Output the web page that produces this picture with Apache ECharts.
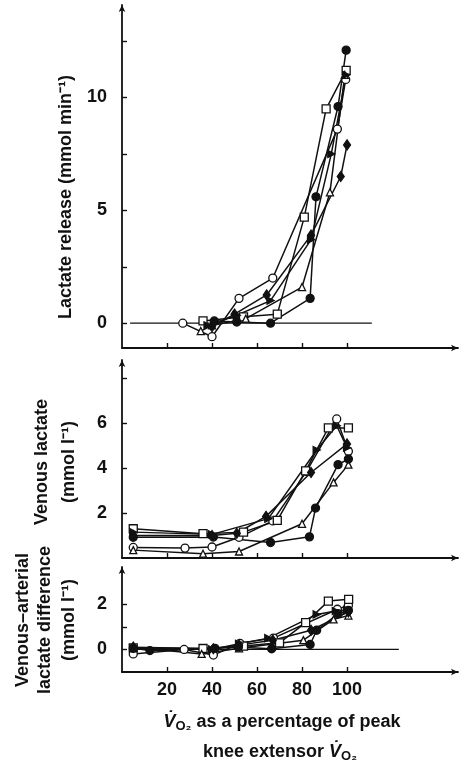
<!DOCTYPE html>
<html>
<head>
<meta charset="utf-8">
<script src="https://cdn.jsdelivr.net/npm/echarts@6/dist/echarts.min.js"></script>
<style>
  html, body { margin: 0; padding: 0; background: #fff; }
  #chart { width: 459px; height: 767px; }
</style>
</head>
<body>
<div id="chart"></div>
<script>
// x: VO2 as % of peak knee extensor VO2
const xTicks = [20, 40, 60, 80, 100];

// top panel: lactate release (mmol/min)
const releaseTicks = [0, 2.5, 5, 7.5, 10, 12.5];
const releaseLabels = [0, 5, 10];
const releaseZero = [[3.6, 0], [111, 0]];
const releaseOpenCircle = [[27, 0], [40, -0.6], [52, 1.1], [67, 2.0], [95.7, 8.6], [99.4, 10.8]];
const releaseSquare = [[36, 0.1], [54, 0.28], [69, 0.4], [81, 4.7], [90.7, 9.5], [99.6, 11.2]];
const releaseTriangle = [[35, -0.35], [40, -0.1], [55, 0.2], [80, 1.6], [92.4, 5.8], [99, 11.0]];
const releaseDiamond = [[40, -0.15], [50, 0.4], [64.3, 1.25], [84, 3.9], [97.2, 6.5], [100, 7.9]];
const releaseFilled = [[41, 0.1], [51, 0.05], [66, 0], [83.6, 1.1], [86.2, 5.6], [96, 9.6], [99.6, 12.1]];
const releaseArrow = [[38, -0.1], [51, 0.35], [66, 1.0], [84, 3.7], [93, 7.5], [99.6, 11.0]];

// middle panel: venous lactate (mmol/l)
const venousTicks = [2, 4, 6, 8];
const venousLabels = [2, 4, 6];
const venousOpenCircle = [[5, 0.47], [28, 0.44], [40, 0.49], [52, 0.92], [67, 1.65], [82, 3.85], [95.4, 6.18], [100.6, 4.74]];
const venousSquare = [[5, 1.3], [36, 1.08], [54, 1.15], [69, 1.67], [81.6, 3.87], [91.7, 5.78], [100.6, 5.78]];
const venousTriangle = [[5, 0.35], [36, 0.19], [52, 0.29], [80, 1.52], [94, 3.36], [100.6, 4.15]];
const venousDiamond = [[5, 1.0], [40, 1.0], [51, 1.1], [64, 1.85], [84, 3.8], [100, 5.07]];
const venousFilled = [[5, 0.92], [40.6, 0.93], [66, 0.69], [83.3, 0.94], [86, 2.22], [96, 4.15], [100.6, 4.4]];
const venousArrow = [[5, 1.15], [40, 1.05], [65, 1.75], [86.5, 4.8], [95.4, 5.88], [100, 4.9]];

// bottom panel: venous-arterial lactate difference (mmol/l)
const diffTicks = [0, 1, 2];
const diffLabels = [0, 2];
const diffZero = [[3.6, 0], [123, 0]];
const diffOpenCircle = [[5, -0.2], [27.6, 0], [40.6, -0.25], [52.4, 0.27], [67.3, 0.5], [95.7, 1.78], [100.6, 1.95]];
const diffSquare = [[5, 0.07], [36, 0.04], [54, 0.15], [70, 0.29], [81.6, 1.19], [91.7, 2.14], [100.7, 2.22]];
const diffTriangle = [[5, 0.1], [35.4, -0.2], [52, 0.05], [80.6, 0.41], [94, 1.33], [100.6, 1.5]];
const diffDiamond = [[5, 0.1], [40.6, 0.03], [52, 0.19], [67, 0.41], [84, 0.85], [100.6, 1.66]];
const diffFilled = [[5, 0.05], [12.4, -0.05], [41.3, 0.05], [51.7, 0.1], [66.5, 0.03], [83.6, 0.22], [86.5, 0.85], [96, 1.58], [100.6, 1.73]];
const diffArrow = [[5, 0.05], [40, 0], [52, 0.25], [65, 0.5], [86.5, 1.55], [95, 1.7], [100, 1.75]];

const INK = '#111';
const FONT = 'bold 18px "Liberation Sans", Arial, sans-serif';

const markers = {
  openCircle: { symbol: 'circle', symbolSize: 8, fill: '#fff' },
  filled: { symbol: 'circle', symbolSize: 8, fill: INK },
  square: { symbol: 'rect', symbolSize: 8, fill: '#fff' },
  triangle: { symbol: 'triangle', symbolSize: 7, fill: '#fff' },
  diamond: { symbol: 'diamond', symbolSize: [7, 10], fill: INK },
  arrow: { symbol: 'path://M0,0L10,5L0,10Z', symbolSize: 7, fill: INK }
};

function subject(data, kind, idx) {
  const m = markers[kind];
  return {
    type: 'line', xAxisIndex: idx, yAxisIndex: idx, data: data,
    symbol: m.symbol, symbolSize: m.symbolSize, showSymbol: true,
    lineStyle: { color: INK, width: 1.5 },
    itemStyle: { color: m.fill, borderColor: INK, borderWidth: 1.3 },
    z: 3
  };
}

function zeroLine(data, idx) {
  return {
    type: 'line', xAxisIndex: idx, yAxisIndex: idx, data: data,
    symbol: 'none', lineStyle: { color: INK, width: 1.2 }, z: 2
  };
}

function xAxis(idx, showLabels) {
  return {
    type: 'value', gridIndex: idx, min: 0, max: 149.3,
    axisLine: { onZero: false, lineStyle: { color: INK, width: 1.8 }, symbol: ['none', 'arrow'], symbolSize: [5, 7] },
    axisTick: { inside: true, length: 5, customValues: xTicks, lineStyle: { color: INK, width: 1.4 } },
    axisLabel: { show: showLabels, customValues: xTicks, color: INK, fontSize: 18, fontWeight: 'bold', fontFamily: 'Liberation Sans', margin: 9 },
    splitLine: { show: false }
  };
}

function yAxis(idx, min, max, ticks, labels) {
  return {
    type: 'value', gridIndex: idx, min: min, max: max,
    axisLine: { onZero: false, lineStyle: { color: INK, width: 1.8 }, symbol: ['none', 'arrow'], symbolSize: [5, 7] },
    axisTick: { inside: true, length: 5, customValues: ticks, lineStyle: { color: INK, width: 1.4 } },
    axisLabel: { customValues: labels, color: INK, fontSize: 18, fontWeight: 'bold', fontFamily: 'Liberation Sans', margin: 15 },
    splitLine: { show: false }
  };
}

function vText(text, x, y) {
  return {
    type: 'text', x: x, y: y, rotation: Math.PI / 2,
    style: { text: text, font: FONT, fill: INK, align: 'center', verticalAlign: 'middle' }
  };
}

const vo2Rich = {
  v: { fontSize: 18, fontWeight: 'bold', fontStyle: 'italic', fontFamily: 'Liberation Sans', lineHeight: 22, fill: INK },
  s: { fontSize: 13, fontWeight: 'bold', fontFamily: 'Liberation Sans', lineHeight: 12, verticalAlign: 'bottom', fill: INK },
  t: { fontSize: 18, fontWeight: 'bold', fontFamily: 'Liberation Sans', lineHeight: 22, fill: INK }
};

const chart = echarts.init(document.getElementById('chart'), null, { renderer: 'canvas' });
chart.setOption({
  animation: false,
  backgroundColor: '#fff',
  grid: [
    { left: 122, right: 1, top: 5, height: 343 },
    { left: 122, right: 1, top: 360, height: 198 },
    { left: 122, right: 1, top: 567, height: 105 }
  ],
  xAxis: [xAxis(0, false), xAxis(1, false), xAxis(2, true)],
  yAxis: [
    yAxis(0, -1.1, 14.1, releaseTicks, releaseLabels),
    yAxis(1, 0, 8.8, venousTicks, venousLabels),
    yAxis(2, -1, 3.65, diffTicks, diffLabels)
  ],
  series: [
    zeroLine(releaseZero, 0),
    subject(releaseOpenCircle, 'openCircle', 0),
    subject(releaseSquare, 'square', 0),
    subject(releaseTriangle, 'triangle', 0),
    subject(releaseDiamond, 'diamond', 0),
    subject(releaseArrow, 'arrow', 0),
    subject(releaseFilled, 'filled', 0),

    subject(venousOpenCircle, 'openCircle', 1),
    subject(venousSquare, 'square', 1),
    subject(venousTriangle, 'triangle', 1),
    subject(venousDiamond, 'diamond', 1),
    subject(venousArrow, 'arrow', 1),
    subject(venousFilled, 'filled', 1),

    zeroLine(diffZero, 2),
    subject(diffOpenCircle, 'openCircle', 2),
    subject(diffSquare, 'square', 2),
    subject(diffTriangle, 'triangle', 2),
    subject(diffDiamond, 'diamond', 2),
    subject(diffArrow, 'arrow', 2),
    subject(diffFilled, 'filled', 2)
  ],
  graphic: [
    vText('Lactate release (mmol min⁻¹)', 66, 197),
    vText('Venous lactate', 42, 462),
    vText('(mmol l⁻¹)', 69, 462),
    vText('Venous–arterial', 23, 620),
    vText('lactate difference', 45, 620),
    vText('(mmol l⁻¹)', 69, 620),
    {
      type: 'text', x: 282, y: 722,
      style: { text: '{v|V̇}{s|O₂}{t| as a percentage of peak}', rich: vo2Rich, align: 'center', verticalAlign: 'middle' }
    },
    {
      type: 'text', x: 280, y: 752,
      style: { text: '{t|knee extensor }{v|V̇}{s|O₂}', rich: vo2Rich, align: 'center', verticalAlign: 'middle' }
    }
  ]
});
window.addEventListener('resize', () => { chart.resize(); });
</script>
</body>
</html>
